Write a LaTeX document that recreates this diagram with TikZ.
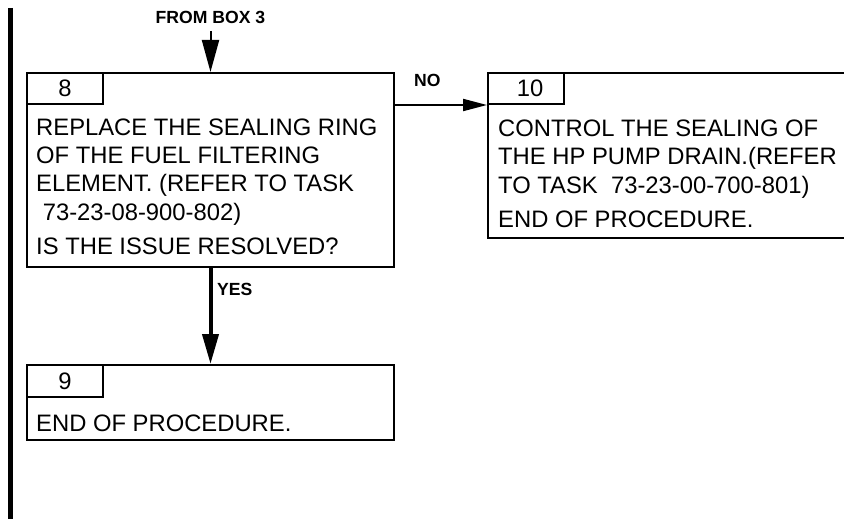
\documentclass[tikz,border=0pt]{standalone}
\usepackage{fontspec}
\setmainfont{Liberation Sans}
\usetikzlibrary{arrows.meta}
\newcommand{\mybody}{\fontsize{23.8}{28.4}\selectfont}
\newcommand{\mylbl}{\fontsize{17.6}{20}\selectfont\bfseries}
\tikzset{
  box/.style={draw, line width=2pt, rectangle, inner sep=0pt, anchor=north west},
  tabbox/.style={draw, line width=2pt, rectangle, minimum width=76pt, minimum height=31pt, inner sep=0pt, anchor=north west},
  numtxt/.style={font=\mybody, inner sep=0pt},
  txt/.style={anchor=base west, inner sep=0pt, align=left, font=\mybody},
  lbl/.style={font=\mylbl, inner sep=0pt, anchor=base west},
  thinarrow/.style={line width=2pt, -{Triangle[length=32pt,width=17pt]}},
  yesarrow/.style={line width=4pt, -{Triangle[length=30pt,width=16pt]}},
  noarrow/.style={line width=2pt, -{Triangle[length=24pt,width=12pt]}},
}
\begin{document}
\begin{tikzpicture}[x=1pt,y=-1pt]
\clip (0,0) rectangle (844,519);
% left change bar
\draw[line width=5pt] (10.5,8) -- (10.5,519);

% box 8
\node[box, minimum width=367pt, minimum height=194pt] (b8) at (26,72) {};
\node[tabbox] (t8) at (b8.north west) {};
\node[numtxt] (n8) at (t8.center) {8};
\node[txt] (x8) at (36,220.2) {REPLACE THE SEALING RING\\OF THE FUEL FILTERING\\ELEMENT. (REFER TO TASK\\\ 73-23-08-900-802)};
\node[txt] (q8) at (36,254) {IS THE ISSUE RESOLVED?};

% box 10
\node[box, minimum width=362pt, minimum height=165pt] (b10) at (487,72) {};
\node[tabbox] (t10) at (b10.north west) {};
\node[numtxt, xshift=4pt] (n10) at (t10.center) {10};
\node[txt] (x10) at (498,193.3) {CONTROL THE SEALING OF\\THE HP PUMP DRAIN.(REFER\\TO TASK\ \ 73-23-00-700-801)};
\node[txt] (e10) at (498,227) {END OF PROCEDURE.};

% box 9
\node[box, minimum width=367pt, minimum height=75pt] (b9) at (26,364) {};
\node[tabbox, minimum height=32pt] (t9) at (b9.north west) {};
\node[numtxt] (n9) at (t9.center) {9};
\node[txt] (x9) at (36,431) {END OF PROCEDURE.};

% labels
\node[font=\mylbl, inner sep=0pt, anchor=base] (fb3) at (b8.north |- 0,23.3) {FROM BOX 3};
\coordinate (fb3s) at (b8.north |- 0,31);
\node[lbl] (no) at (414,86.7) {NO};
\node[lbl] (yes) at (217,295) {YES};

% connectors
\draw[thinarrow] (fb3s) -- (b8.north);
\draw[noarrow] (b8.east |- t10.south west) -- (t10.south west);
\draw[yesarrow] (b8.south) -- (b9.north);
\end{tikzpicture}
\end{document}
